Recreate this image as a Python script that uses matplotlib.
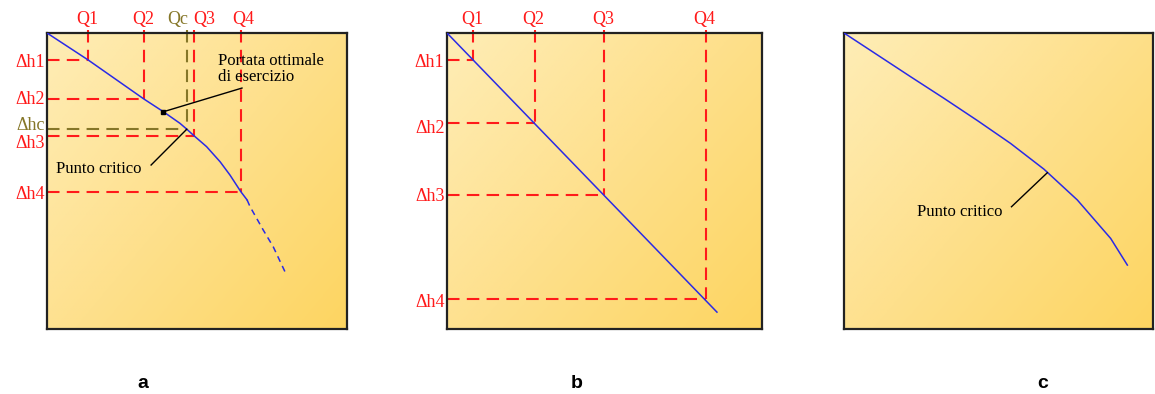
import numpy as np
import matplotlib.pyplot as plt
from matplotlib.colors import LinearSegmentedColormap

# --- dati (Q in orizzontale, delta h verso il basso, 0..100) ---
# pannello a
a_curve_q = [0, 13.7, 32.3, 38.8, 44.3, 46.6, 49.1, 53.2, 57.7, 61.0, 64.6, 66.7]
a_curve_h = [0, 9.1, 22.3, 26.6, 30.5, 32.5, 34.8, 38.4, 43.5, 48.0, 53.6, 56.4]
a_tail_q = [66.7, 67.7, 72.1, 75.4, 79.3]
a_tail_h = [56.4, 58.7, 66.6, 72.2, 80.6]
a_q = [13.7, 32.3, 49.1, 64.6]
a_h = [9.1, 22.3, 34.8, 53.6]
a_q_labels = ['Q1', 'Q2', 'Q3', 'Q4']
a_h_labels = ['Δh1', 'Δh2', 'Δh3', 'Δh4']
a_qc, a_hc = 46.6, 32.5
a_opt = (38.8, 26.6)

# pannello b
b_line_q = [0, 85.7]
b_line_h = [0, 94.3]
b_q = [8.3, 27.9, 49.8, 82.2]
b_h = [9.1, 30.4, 54.7, 89.9]

# pannello c
c_curve_q = [0, 10.8, 21.6, 32.4, 43.2, 53.9, 64.7, 75.5, 86.3, 91.7]
c_curve_h = [0, 7.4, 14.8, 22.1, 29.6, 37.3, 46.0, 56.4, 69.4, 78.4]
c_crit = (65.8, 47.2)

panel_names = ['a', 'b', 'c']

RED = '#ff1a1a'
OLIVE = '#857628'
BLUE = '#2a2ae6'
SERIF = 'Liberation Serif'

W, H = 1155, 394
fig = plt.figure(figsize=(W / 100, H / 100), dpi=100)

grad = LinearSegmentedColormap.from_list('g', ['#feedb6', '#fee08c', '#fdd561'])


def make_panel(x0, x1, y0=33, y1=329):
    ax = fig.add_axes([x0 / W, (H - y1) / H, (x1 - x0) / W, (y1 - y0) / H])
    xx, yy = np.meshgrid(np.linspace(0, 1, 200), np.linspace(0, 1, 200))
    ax.imshow(0.55 * xx + 0.45 * yy, cmap=grad, extent=[0, 100, 100, 0],
              aspect='auto', zorder=0, interpolation='bilinear')
    ax.set_xlim(0, 100)
    ax.set_ylim(100, 0)
    ax.set_xticks([])
    ax.set_yticks([])
    for s in ax.spines.values():
        s.set_linewidth(1.6)
        s.set_color('#222222')
    return ax


def guides(ax, qs, hs, color=RED):
    for q, h in zip(qs, hs):
        ax.plot([q, q], [-1, h], color=color, lw=1.5, dashes=(6, 3.5), zorder=2, clip_on=False)
        ax.plot([0, q], [h, h], color=color, lw=1.5, dashes=(6, 3.5), zorder=2)


def qlabel(ax, x, text, color=RED):
    ax.text(x, -4.5, text, ha='center', va='center', fontsize=13, color=color,
            family=SERIF, clip_on=False)


def hlabel(ax, y, text, color=RED):
    ax.text(-0.8, y, text, ha='right', va='center', fontsize=13, color=color,
            family=SERIF, clip_on=False)


# ---- a ----
ax = make_panel(47, 347)
guides(ax, a_q, a_h)
guides(ax, [a_qc], [a_hc], color=OLIVE)
ax.plot(a_curve_q, a_curve_h, color=BLUE, lw=1.1, zorder=3)
ax.plot(a_tail_q, a_tail_h, color=BLUE, lw=1.1, dashes=(4, 3), zorder=3)
for x, t in zip([13.3, 32.0, 52.3, 65.3], a_q_labels):
    qlabel(ax, x, t)
qlabel(ax, 43.7, 'Qc', color=OLIVE)
for y, t in zip([9.8, 22.6, 37.2, 54.7], a_h_labels):
    hlabel(ax, y, t)
hlabel(ax, 31.2, 'Δhc', color=OLIVE)
ax.plot([a_opt[0], 65.0], [a_opt[1], 18.6], color='black', lw=1, zorder=4)
ax.plot(*a_opt, 's', color='black', ms=2.5, zorder=4)
ax.text(57, 12.2, 'Portata ottimale\ndi esercizio', fontsize=12, family=SERIF,
        va='center', ha='left', linespacing=1.0, clip_on=False)
ax.plot([a_qc, 34.7], [a_hc, 44.6], color='black', lw=1, zorder=4)
ax.text(3.0, 45.9, 'Punto critico', fontsize=12, family=SERIF, va='center', ha='left')

# ---- b ----
ax = make_panel(447, 762)
guides(ax, b_q, b_h)
ax.plot(b_line_q, b_line_h, color=BLUE, lw=1.1, zorder=3)
for x, t in zip([7.9, 27.3, 49.5, 81.6], a_q_labels):
    qlabel(ax, x, t)
for y, t in zip([9.8, 32.1, 55.4, 90.9], a_h_labels):
    hlabel(ax, y, t)

# ---- c ----
ax = make_panel(844, 1153)
ax.plot(c_curve_q, c_curve_h, color=BLUE, lw=1.1, zorder=3)
ax.plot([c_crit[0], 54.2], [c_crit[1], 58.7], color='black', lw=1, zorder=4)
ax.text(23.5, 60.4, 'Punto critico', fontsize=12, family=SERIF, va='center', ha='left')

for x, t in zip([143, 577, 1043], panel_names):
    fig.text(x / W, 1 - 383 / H, t, ha='center', va='center', fontsize=14,
             fontweight='bold', family='Liberation Sans')

fig.savefig('out.png', dpi=100)
